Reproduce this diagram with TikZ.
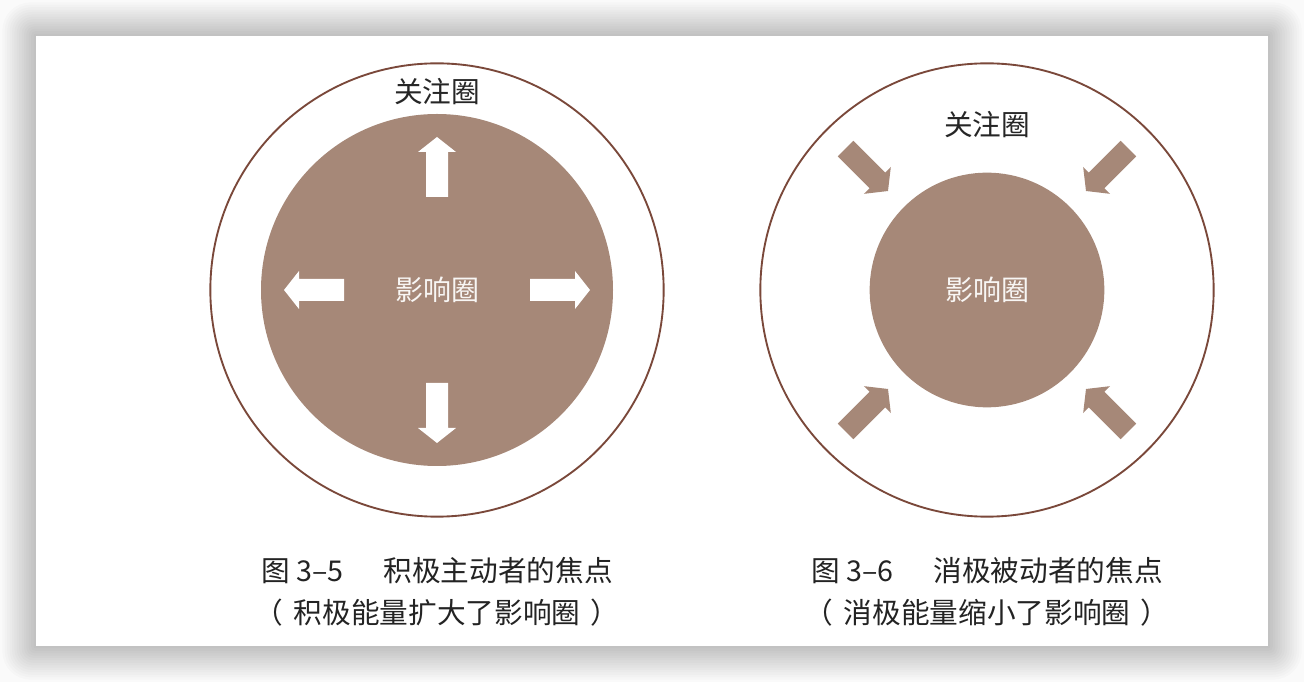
\documentclass[tikz,border=0pt]{standalone}
\usepackage{fontspec}
\setmainfont{Noto Sans CJK SC}
\usetikzlibrary{calc}
\definecolor{ringline}{RGB}{122,72,58}
\definecolor{zonefill}{RGB}{166,136,120}
\definecolor{captext}{RGB}{35,35,35}
\tikzset{
  outerring/.style={circle, draw=ringline, line width=1.4pt, inner sep=0pt},
  innerzone/.style={circle, fill=zonefill, inner sep=0pt, text=white!92!zonefill,
    font=\fontsize{21}{25}\selectfont},
  ringlabel/.style={font=\fontsize{21.5}{26}\selectfont, text=black!85},
  captionline/.style={font=\fontsize{21.5}{26}\selectfont, text=captext},
  pics/bigarrow/.style={code={
    \fill[#1] (0,-11) -- (45,-11) -- (45,-19) -- (60,0) -- (45,19)
      -- (45,11) -- (0,11) -- cycle;}}
}

\begin{document}
\begin{tikzpicture}[x=0.75pt,y=0.75pt]
  \useasboundingbox (0,0) rectangle (1304,682);
  \fill[gray!4] (0,0) rectangle (1304,682);
  % soft shadow round the card
  \foreach \s in {1,...,14}
    \fill[black, opacity=0.017, rounded corners=\s*1.5pt]
      (36-\s*2.4,36-\s*2.4) rectangle (1268+\s*2.4,646+\s*2.4);
  \fill[white] (36,36) rectangle (1268,646);

  % figure 3-5
  \node[outerring, minimum size=340pt] (focusL) at (437,392) {};
  \node[innerzone, minimum size=264pt] (inflL) at (437,392) {影响圈};
  \node[ringlabel] (focusLtxt) at (437,590) {关注圈};
  \foreach \a in {0,90,180,270}
    \pic[rotate=\a] at ($(inflL.center)+(\a:93)$) {bigarrow=white};

  % figure 3-6
  \node[outerring, minimum size=340pt] (focusR) at (987,392) {};
  \node[innerzone, minimum size=176pt] (inflR) at (987,392) {影响圈};
  \node[ringlabel] (focusRtxt) at (987,557) {关注圈};
  \foreach \a in {45,135,225,315}
    \pic[rotate=\a+180] at ($(inflR.center)+(\a:200)$) {bigarrow=zonefill};

  % captions
  \node[captionline] (capL1) at (437,111) {图 3–5\hspace{1.4em}积极主动者的焦点};
  \node[captionline] (capL2) at (437,69) {（\hspace{0.35em}积极能量扩大了影响圈\hspace{0.35em}）};
  \node[captionline] (capR1) at (987,111) {图 3–6\hspace{1.4em}消极被动者的焦点};
  \node[captionline] (capR2) at (987,69) {（\hspace{0.35em}消极能量缩小了影响圈\hspace{0.35em}）};
\end{tikzpicture}
\end{document}
